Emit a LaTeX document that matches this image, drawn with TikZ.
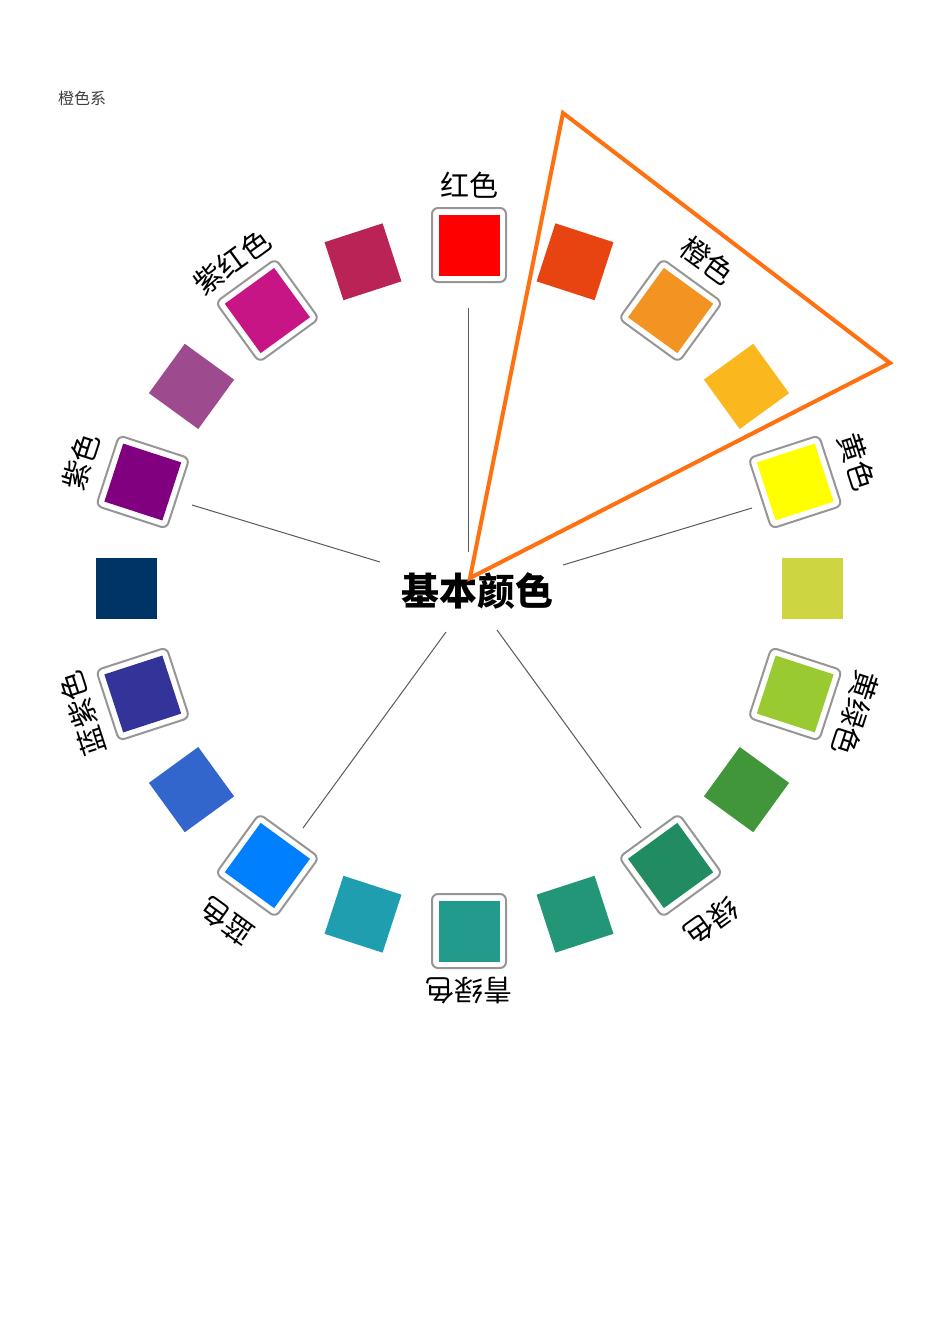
\documentclass[tikz,border=0pt]{standalone}
\usepackage{fontspec}
\newfontfamily\cjk{Noto Sans CJK SC}
\definecolor{c0}{RGB}{255,0,0}
\definecolor{c18}{RGB}{232,68,18}
\definecolor{c36}{RGB}{243,147,33}
\definecolor{c54}{RGB}{251,184,30}
\definecolor{c72}{RGB}{255,255,0}
\definecolor{c90}{RGB}{205,213,65}
\definecolor{c108}{RGB}{153,202,50}
\definecolor{c126}{RGB}{65,150,58}
\definecolor{c144}{RGB}{33,140,98}
\definecolor{c162}{RGB}{35,150,120}
\definecolor{c180}{RGB}{34,154,140}
\definecolor{c198}{RGB}{30,158,174}
\definecolor{c216}{RGB}{0,128,255}
\definecolor{c234}{RGB}{51,102,204}
\definecolor{c252}{RGB}{51,51,153}
\definecolor{c270}{RGB}{0,51,102}
\definecolor{c288}{RGB}{128,0,128}
\definecolor{c306}{RGB}{158,74,142}
\definecolor{c324}{RGB}{199,21,133}
\definecolor{c342}{RGB}{186,35,86}
\definecolor{framegray}{RGB}{150,150,150}
\definecolor{linegray}{RGB}{90,90,90}
\definecolor{triorange}{RGB}{255,112,16}
\tikzset{
  sq/.style={minimum size=61pt, inner sep=0pt, outer sep=0pt},
  framebox/.style={minimum size=74pt, inner sep=0pt, outer sep=0pt, rounded corners=6pt, draw=framegray, line width=2pt, fill=white},
  lab/.style={font=\cjk\fontsize{29}{29}\selectfont, inner sep=0pt, text=black},
  spoke/.style={draw=linegray, line width=1pt},
  tri/.style={draw=triorange, line width=4pt, line join=miter},
}
\begin{document}
\begin{tikzpicture}[x=1pt,y=1pt]
\useasboundingbox[fill=white] (0,0) rectangle (950,-1344);
\node[font=\cjk\fontsize{16}{16}\selectfont, text=black!75, inner sep=0pt] (title) at (82,-98) {橙色系};
\begin{scope}[shift={(469,-588)}]
  % plain squares
  \foreach \a in {18,54,90,126,162,198,234,270,306,342}{
    \node[sq, fill=c\a, rotate=-\a] (s\a) at ({90-\a}:343) {};
  }
  % framed squares
  \foreach \a in {0,36,72,108,144,180,216,252,288,324}{
    \node[framebox, rotate=-\a] (f\a) at ({90-\a}:343) {};
    \node[sq, fill=c\a, rotate=-\a] (s\a) at (f\a) {};
  }
  % labels
  \foreach \a/\t/\r in {0/红色/403,36/橙色/405,72/黄色/408,108/黄绿色/406,144/绿色/412,180/青绿色/403,216/蓝色/412,252/蓝紫色/406,288/紫色/408,324/紫红色/403}{
    \node[lab, rotate=-\a] (t\a) at ({90-\a}:\r) {\t};
  }
\end{scope}
\node[font=\cjk\bfseries\fontsize{38}{38}\selectfont, inner sep=0pt] (center) at (477,-591) {基本颜色};
% spokes
\coordinate (r1) at (468,-308); \coordinate (r2) at (468,-552);
\coordinate (y1) at (752,-508); \coordinate (y2) at (563,-565);
\coordinate (g1) at (641,-828); \coordinate (g2) at (497,-630);
\coordinate (b1) at (303,-828); \coordinate (b2) at (446,-632);
\coordinate (v1) at (192,-505); \coordinate (v2) at (380,-562);
\draw[spoke] (r1) -- (r2);
\draw[spoke] (y1) -- (y2);
\draw[spoke] (g1) -- (g2);
\draw[spoke] (b1) -- (b2);
\draw[spoke] (v1) -- (v2);
% orange triangle
\coordinate (ta) at (563,-113);
\coordinate (tb) at (890,-363);
\coordinate (tc) at (470,-578);
\draw[tri] (ta) -- (tb) -- (tc) -- cycle;
\end{tikzpicture}
\end{document}
